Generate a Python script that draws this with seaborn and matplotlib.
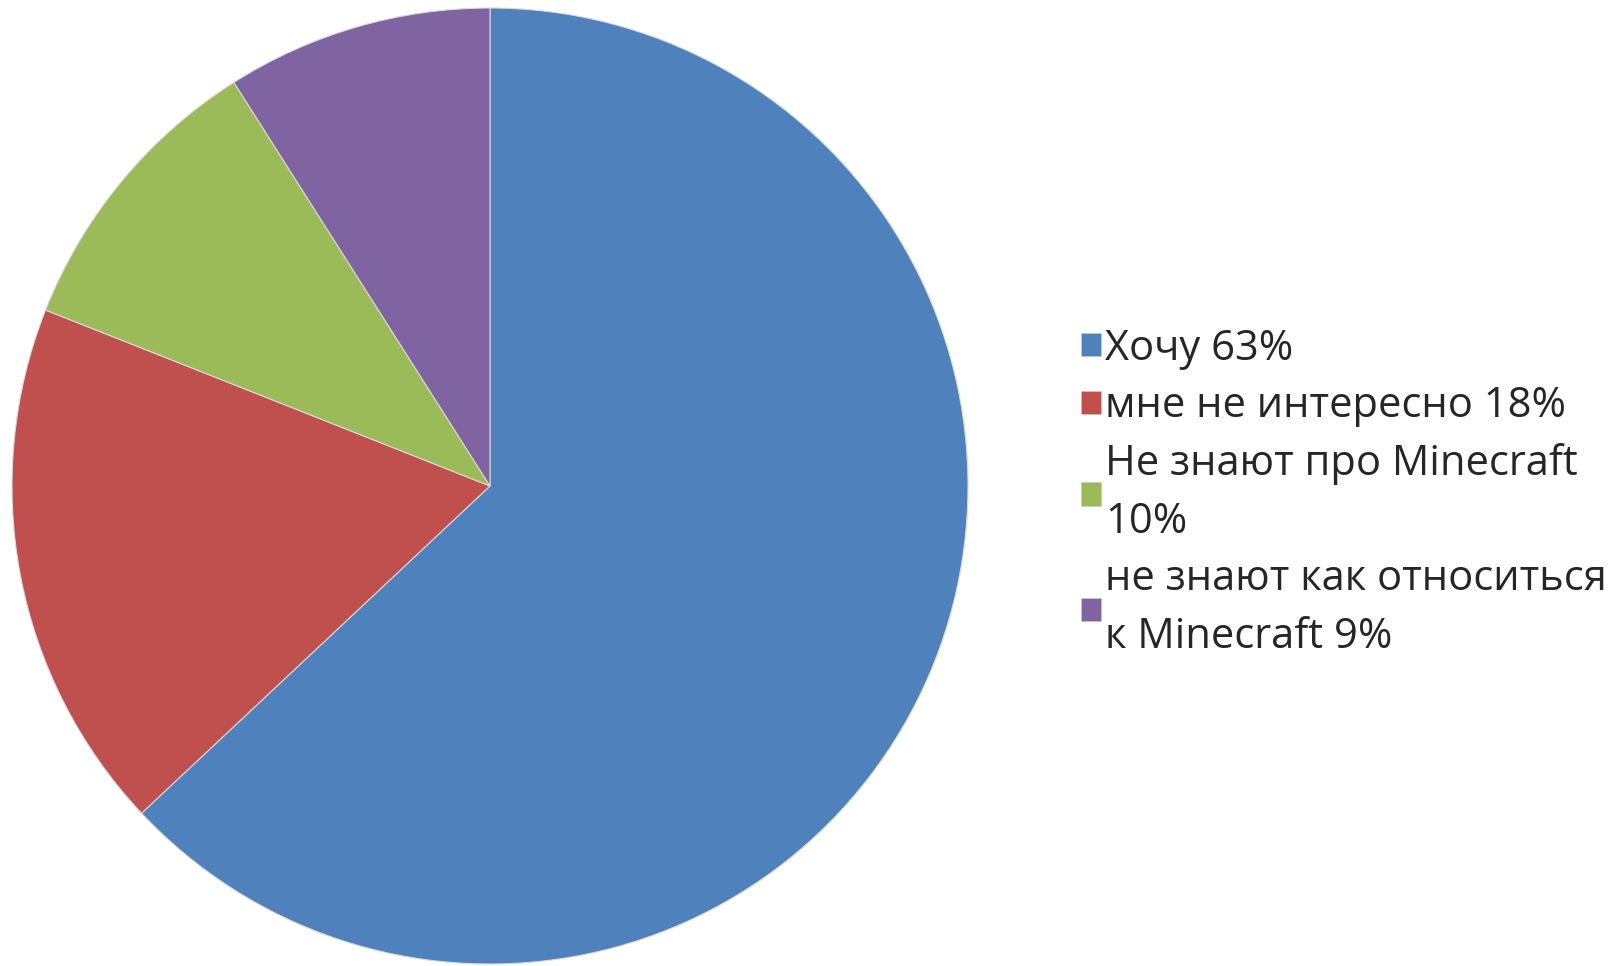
import matplotlib
matplotlib.use("Agg")
import matplotlib.pyplot as plt
from matplotlib.patches import Patch
import seaborn as sns

# survey answers, clockwise from 12 o'clock
labels = ["Хочу 63%",
          "мне не интересно 18%",
          "Не знают про Minecraft\n10%",
          "не знают как относиться\nк Minecraft 9%"]
shares = [63, 18, 10, 9]
colors = ["#4F81BD", "#C0504D", "#9BBB59", "#8064A2"]

sns.set_theme(style="white")
plt.rcParams["font.family"] = ["Open Sans", "DejaVu Sans"]

fig = plt.figure(figsize=(16.2, 9.66), dpi=100)
# pie centre ~ (490, 486) px, radius ~ 478 px
ax = fig.add_axes([12 / 1620, 2 / 966, 956 / 1620, 956 / 966])

wedges, _ = ax.pie(shares, colors=sns.color_palette(colors), startangle=90,
                   counterclock=False, radius=1.0,
                   wedgeprops=dict(edgecolor="#d9d9d9", linewidth=0.8))
ax.set_xlim(-1.0, 1.0)
ax.set_ylim(-1.0, 1.0)
ax.set_aspect("equal")
ax.axis("off")

handles = [Patch(facecolor=c, edgecolor="#c8c8c8", linewidth=0.5) for c in colors]
leg = fig.legend(handles, labels, loc="center left",
                 bbox_to_anchor=(1081 / 1620, 0.49), frameon=False,
                 fontsize=30, handlelength=0.48, handleheight=0.48,
                 handletextpad=0.1, labelspacing=0.38, borderpad=0,
                 borderaxespad=0)
for t in leg.get_texts():
    t.set_color("#262626")
    t.set_linespacing(1.48)

fig.savefig("out.png", dpi=100, facecolor="white")
